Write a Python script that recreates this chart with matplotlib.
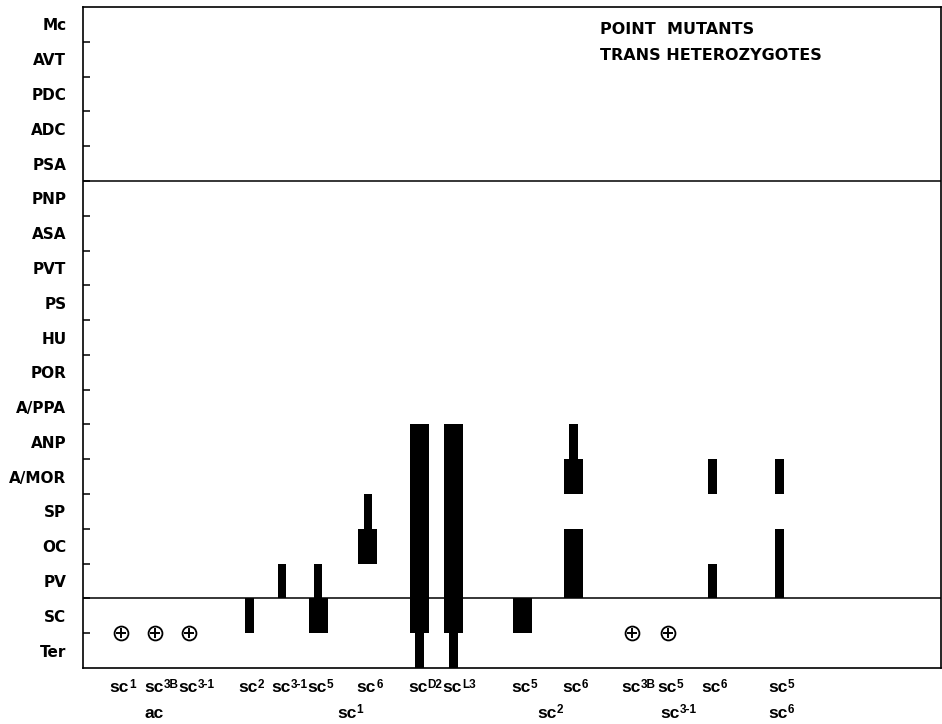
import matplotlib
matplotlib.use("Agg")
import matplotlib.pyplot as plt
from matplotlib.patches import Rectangle

plt.rcParams['font.family'] = ['DejaVu Sans']
plt.rcParams['font.weight'] = 'bold'

# ---- data ----
rows = ["Ter", "SC", "PV", "OC", "SP", "A/MOR", "ANP", "A/PPA", "POR", "HU",
        "PS", "PVT", "ASA", "PNP", "PSA", "ADC", "PDC", "AVT", "Mc"]

col_sup = ["1", "3B", "3-1", "2", "3-1", "5", "6", "D2", "L3",
           "5", "6", "3B", "5", "6", "5"]
col_pos = [1.1, 2.1, 3.1, 4.85, 5.8, 6.85, 8.3, 9.8, 10.8,
           12.8, 14.3, 16.0, 17.05, 18.35, 20.3]

group_base = ["ac", "sc", "sc", "sc", "sc"]
group_sup = ["", "1", "2", "3-1", "6"]
group_cols = [[0, 1, 2], [3, 4, 5, 6, 7, 8], [9, 10], [11, 12, 13], [14]]

# segments: (column index, row from, row to, thick?)
seg_col = [3, 4, 5, 5, 6, 6, 7, 7, 8, 8, 9, 10, 10, 10, 13, 13, 14, 14]
seg_lo = [1, 2, 1, 2, 3, 4, 0, 1, 0, 1, 1, 2, 5, 6, 2, 5, 2, 5]
seg_hi = [2, 3, 2, 3, 4, 5, 1, 7, 1, 7, 2, 4, 6, 7, 3, 6, 4, 6]
seg_thick = [0, 0, 1, 0, 1, 0, 0, 1, 0, 1, 1, 1, 1, 0, 0, 0, 0, 0]

wild_cols = [0, 1, 2, 11, 12]   # (+) wild type
wild_row = 1

divider_rows = [2, 14]

title_lines = ["POINT  MUTANTS", "TRANS HETEROZYGOTES"]

# ---- figure ----
fig = plt.figure(figsize=(9.42, 7.24), dpi=100)
ax = fig.add_axes([83/942, 1-668/724, (941-83)/942, (668-7)/724])
ax.set_xlim(0, 25)
ax.set_ylim(0, len(rows))

thin_w, thick_w = 0.25, 0.55
for c, lo, hi, th in zip(seg_col, seg_lo, seg_hi, seg_thick):
    w = thick_w if th else thin_w
    ax.add_patch(Rectangle((col_pos[c] - w/2, lo), w, hi - lo,
                           facecolor='black', edgecolor='none'))

wx = [col_pos[c] for c in wild_cols]
wy = [wild_row] * len(wild_cols)
ax.plot(wx, wy, 'o', ms=10, mfc='white', mec='black', mew=1.3, ls='none')
ax.plot(wx, wy, '+', ms=7, mec='black', mew=1.4, ls='none')

for r in divider_rows:
    ax.axhline(r, color='black', lw=1.1)

for s in ax.spines.values():
    s.set_linewidth(1.2)

ax.set_yticks(range(1, len(rows)))
ax.set_yticklabels([])
ax.tick_params(axis='y', which='major', direction='in', length=5, width=1.1)
ax.set_yticks([i + 0.5 for i in range(len(rows))], minor=True)
ax.set_yticklabels(rows, minor=True, fontsize=11, fontweight='bold')
ax.tick_params(axis='y', which='minor', length=0, pad=12)
ax.set_xticks([])

LAB_FONT = ['Liberation Sans', 'DejaVu Sans']


def sc_label(x, base, sup, dy, raise_pt):
    t = ax.annotate(base, (x, 0), xytext=(-1, dy), textcoords='offset points',
                    ha='center', va='baseline', fontsize=12.5,
                    fontweight='bold', family=LAB_FONT)
    if sup:
        ax.annotate(sup, xy=(1, 0), xycoords=t, xytext=(0, raise_pt),
                    textcoords='offset points', ha='left', va='baseline',
                    fontsize=8.5, fontweight='bold', family=LAB_FONT)


for x, s in zip(col_pos, col_sup):
    sc_label(x, "sc", s, -17, 4.5)

for b, s, cols in zip(group_base, group_sup, group_cols):
    gx = sum(col_pos[c] for c in cols) / len(cols)
    sc_label(gx, b, s, -36, 5.5)

for i, t in enumerate(title_lines):
    ax.text(15.06, 18.34 - i * 0.72, t, fontsize=11.5, fontweight='bold',
            ha='left', va='center')

fig.savefig("out.png", dpi=100)
